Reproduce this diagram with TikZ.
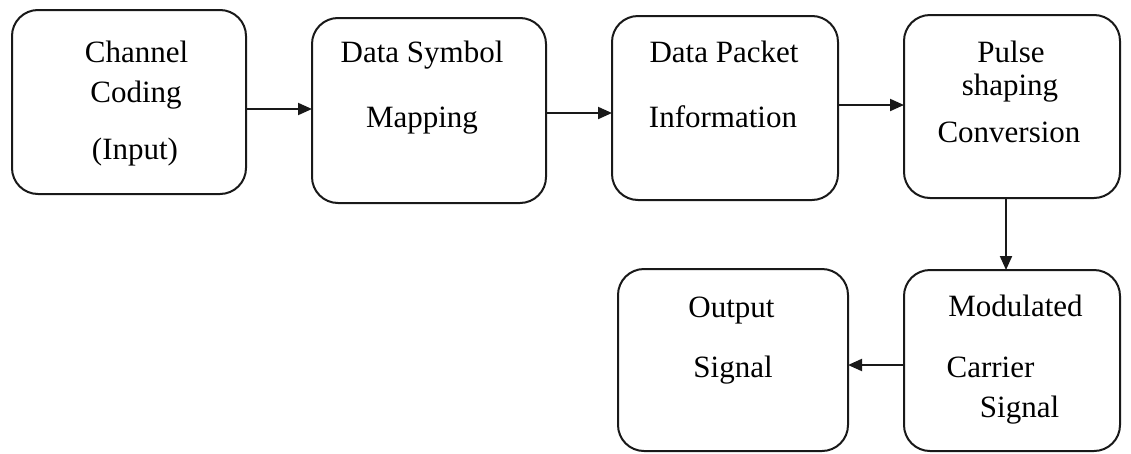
\documentclass[tikz,border=0pt]{standalone}
\usepackage{fontspec}
\setmainfont{Liberation Serif}
\usetikzlibrary{arrows.meta}
\begin{document}
\begin{tikzpicture}[x=1pt,y=1pt,
  blockbox/.style={draw=black!90, line width=2pt, rounded corners=26pt,
    rectangle, inner sep=0pt, outer sep=0pt, fill=white},
  lbl/.style={anchor=base, inner sep=0pt, font=\fontsize{31}{36}\selectfont},
  flow/.style={line width=2pt, draw=black!90,
    -{Triangle[length=14pt,width=12pt]}}]
\useasboundingbox (0,0) rectangle (1131,-453);

% blocks
\node[blockbox, minimum width=234pt, minimum height=184pt] (b1) at (129,-102) {};
\node[blockbox, minimum width=234pt, minimum height=185pt] (b2) at (429,-110.5) {};
\node[blockbox, minimum width=226pt, minimum height=184pt] (b3) at (725,-108) {};
\node[blockbox, minimum width=216pt, minimum height=183pt] (b4) at (1012,-106.5) {};
\node[blockbox, minimum width=216pt, minimum height=181pt] (b5) at (1012,-360.5) {};
\node[blockbox, minimum width=230pt, minimum height=182pt] (b6) at (733,-360) {};

% block texts
\node[lbl] (t1a) at (136.5,-62) {Channel};
\node[lbl] (t1b) at (136,-102) {Coding};
\node[lbl] (t1c) at (135,-159) {(Input)};
\node[lbl] (t2a) at (422,-62) {Data Symbol};
\node[lbl] (t2b) at (422,-127) {Mapping};
\node[lbl] (t3a) at (724,-62) {Data Packet};
\node[lbl] (t3b) at (723,-127) {Information};
\node[lbl] (t4a) at (1011,-62) {Pulse};
\node[lbl] (t4b) at (1010,-95) {shaping};
\node[lbl] (t4c) at (1009,-142) {Conversion};
\node[lbl] (t5a) at (1015.5,-316) {Modulated};
\node[lbl] (t5b) at (990.5,-377) {Carrier};
\node[lbl] (t5c) at (1019.5,-417) {Signal};
\node[lbl] (t6a) at (731.5,-317) {Output};
\node[lbl] (t6b) at (733,-377) {Signal};

% connectors
\draw[flow] (b1.east |- 0,-109) -- (b2.west |- 0,-109);
\draw[flow] (b2.east |- 0,-113) -- (b3.west |- 0,-113);
\draw[flow] (b3.east |- 0,-105) -- (b4.west |- 0,-105);
\draw[flow] (b4.south -| 1006,0) -- (b5.north -| 1006,0);
\draw[flow] (b5.west |- 0,-365) -- (b6.east |- 0,-365);
\end{tikzpicture}
\end{document}
